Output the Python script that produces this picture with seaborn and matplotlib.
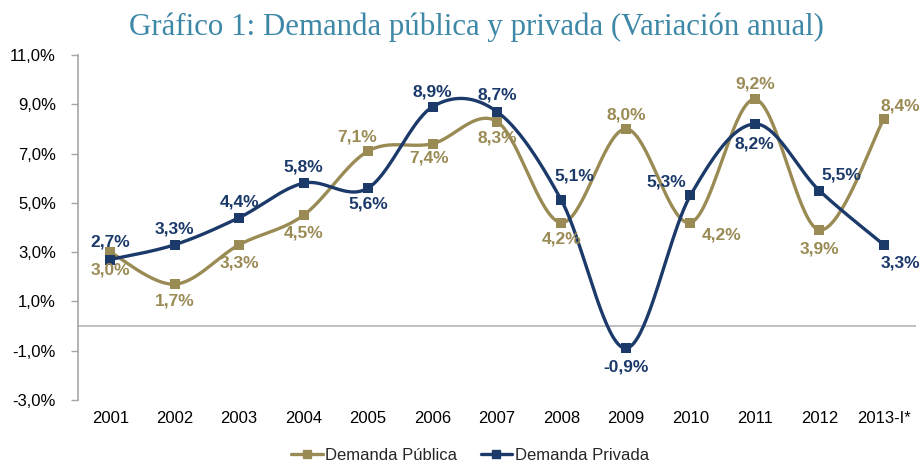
import numpy as np
import pandas as pd
import matplotlib
matplotlib.use("Agg")
import matplotlib.pyplot as plt
from matplotlib.lines import Line2D
import seaborn as sns

# ---------------- data ----------------
years = ["2001", "2002", "2003", "2004", "2005", "2006", "2007",
         "2008", "2009", "2010", "2011", "2012", "2013-I*"]
demanda_publica = [3.0, 1.7, 3.3, 4.5, 7.1, 7.4, 8.3, 4.2, 8.0, 4.2, 9.2, 3.9, 8.4]
demanda_privada = [2.7, 3.3, 4.4, 5.8, 5.6, 8.9, 8.7, 5.1, -0.9, 5.3, 8.2, 5.5, 3.3]
series_names = ["Demanda Pública", "Demanda Privada"]
yticks = [-3, -1, 1, 3, 5, 7, 9, 11]
title = "Gráfico 1: Demanda pública y privada (Variación anual)"

# ---------------- styling / layout ----------------
col_pub = "#9A8B55"
col_priv = "#1B3A6A"
title_col = "#3D87A7"
axis_gray = "#A6A6A6"

# label offsets in pixels (dx, dy)
off_pub = [(0, -18), (0, -17), (0, -18), (0, -18), (-11, 14), (-3, -14), (0, -16),
           (0, -16), (0, 14), (31, -12), (0, 15), (0, -19), (17, 13)]
off_priv = [(0, 18), (0, 16), (0, 16), (0, 16), (0, -16), (0, 15), (0, 17),
            (13, 24), (0, -19), (-24, 13), (0, -20), (22, 16), (17, -18)]


def smooth(xs, ys, n=40):
    """Excel-like smoothed line (Catmull-Rom as cubic Bezier)."""
    P = np.column_stack([xs, ys]).astype(float)
    m = len(P)
    out = []
    for i in range(m - 1):
        p0 = P[i - 1] if i > 0 else P[i]
        p1, p2 = P[i], P[i + 1]
        p3 = P[i + 2] if i + 2 < m else P[i + 1]
        b1 = p1 + (p2 - p0) / 6.0
        b2 = p2 - (p3 - p1) / 6.0
        t = np.linspace(0, 1, n, endpoint=(i == m - 2))[:, None]
        seg = ((1 - t) ** 3) * p1 + 3 * ((1 - t) ** 2) * t * b1 + 3 * (1 - t) * t ** 2 * b2 + t ** 3 * p2
        out.append(seg)
    out = np.vstack(out)
    return out[:, 0], out[:, 1]


sns.set_theme(style="white")
plt.rcParams["font.family"] = ["Liberation Sans", "DejaVu Sans"]

fig = plt.figure(figsize=(9.22, 4.62), dpi=100)
ax = fig.add_axes([78 / 922, 62 / 462, (916 - 78) / 922, (400 - 55) / 462])

xi = np.arange(len(years))
rows = []
for name, vals in zip(series_names, [demanda_publica, demanda_privada]):
    sx, sy = smooth(xi, vals)
    rows.append(pd.DataFrame({"x": sx, "y": sy, "serie": name, "order": np.arange(len(sx))}))
curve_df = pd.concat(rows, ignore_index=True)
pts_df = pd.DataFrame({
    "x": np.concatenate([xi, xi]),
    "y": demanda_publica + demanda_privada,
    "serie": [series_names[0]] * len(xi) + [series_names[1]] * len(xi),
})
palette = {series_names[0]: col_pub, series_names[1]: col_priv}

# zero line
ax.axhline(0, color="#BFBFBF", lw=1.4, zorder=1)

for name, z in zip(series_names, [3, 4]):
    sns.lineplot(data=curve_df[curve_df.serie == name], x="x", y="y", color=palette[name],
                 lw=2.4, sort=False, estimator=None, ax=ax, legend=False, zorder=z)
    sns.scatterplot(data=pts_df[pts_df.serie == name], x="x", y="y", color=palette[name],
                    marker="s", s=55, linewidth=0, ax=ax, legend=False, zorder=z + 0.5)

for vals, offs, c in [(demanda_publica, off_pub, col_pub), (demanda_privada, off_priv, col_priv)]:
    for i, (v, (dx, dy)) in enumerate(zip(vals, offs)):
        ax.annotate(f"{v:.1f}%".replace(".", ","), (i, v), xytext=(dx, dy),
                    textcoords="offset pixels", ha="center", va="center",
                    fontsize=12.5, fontweight="bold", color=c, zorder=6)

ax.set_xlim(-0.5, len(years) - 0.5)
ax.set_ylim(-3, 11)
ax.set_yticks(yticks)
ax.set_yticklabels([f"{t:.1f}%".replace(".", ",") for t in yticks], fontsize=12, color="#000000")
ax.set_xticks(xi)
ax.set_xticklabels(years, fontsize=12, color="#000000")
ax.set_xlabel("")
ax.set_ylabel("")
ax.tick_params(axis="y", direction="out", length=5, width=1, color=axis_gray, pad=11, left=True)
ax.tick_params(axis="x", length=0, pad=8)
for s in ["top", "right", "bottom"]:
    ax.spines[s].set_visible(False)
ax.spines["left"].set_color(axis_gray)
ax.spines["left"].set_linewidth(1.2)

handles = [Line2D([0], [0], color=col_pub, lw=2.4, marker="s", markersize=6),
           Line2D([0], [0], color=col_priv, lw=2.4, marker="s", markersize=6)]
fig.legend(handles, series_names, loc="center", bbox_to_anchor=(470 / 922, 1 - 455 / 462),
           ncol=2, frameon=False, fontsize=12, handlelength=1.9, handletextpad=0.15,
           columnspacing=1.4)

fig.text(476 / 922, 1 - 35 / 462, title, ha="center", va="baseline",
         fontsize=22.2, color=title_col, family=["Liberation Serif", "DejaVu Serif"])

fig.savefig("out.png", dpi=100)
